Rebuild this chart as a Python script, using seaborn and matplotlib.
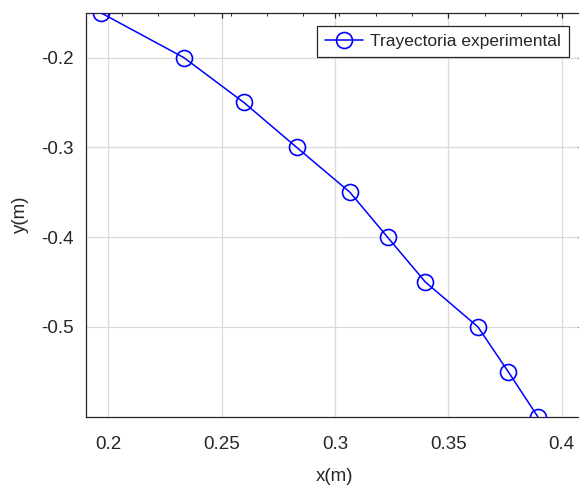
import numpy as np
import pandas as pd
import matplotlib
matplotlib.use("Agg")
import matplotlib.pyplot as plt
import seaborn as sns
from matplotlib.ticker import FixedLocator

x_m = [0.1966, 0.2333, 0.2598, 0.2831, 0.3066, 0.3232, 0.3399, 0.3631, 0.3765, 0.3895]
y_m = [-0.15, -0.20, -0.25, -0.30, -0.35, -0.40, -0.45, -0.50, -0.55, -0.60]
x_ticks = [0.2, 0.25, 0.3, 0.35, 0.4]
x_ticklabels = ["0.2", "0.25", "0.3", "0.35", "0.4"]
y_ticks = [-0.2, -0.3, -0.4, -0.5]
y_ticklabels = ["-0.2", "-0.3", "-0.4", "-0.5"]
series_name = "Trayectoria experimental"

sns.set_theme(style="white")
plt.rcParams['font.family'] = ['Liberation Sans', 'DejaVu Sans']

df = pd.DataFrame({"x": x_m, "y": y_m})

XMIN, XMAX = 0.19, 0.4095
fig = plt.figure(figsize=(5.79, 4.87), dpi=100)
ax = fig.add_axes([85.7 / 579, (487 - 416.7) / 487, (XMAX - XMIN) * 2266 / 579, 404 / 487])

sns.lineplot(data=df, x="x", y="y", sort=False, ax=ax, color="#0000ff",
             linewidth=1.1, marker="o", markersize=11.5, markerfacecolor="none",
             markeredgecolor="#0000ff", markeredgewidth=1.2, label=series_name,
             zorder=3)

ax.set_xlim(XMIN, XMAX)
ax.set_ylim(-0.6, -0.15)
ax.set_xticks(x_ticks)
ax.set_xticklabels(x_ticklabels)
ax.set_yticks(y_ticks)
ax.set_yticklabels(y_ticklabels)
ax.xaxis.set_minor_locator(FixedLocator(np.arange(0.19, 0.41, 0.016)))
ax.yaxis.set_minor_locator(FixedLocator(np.arange(-0.6, -0.15, 0.04)))

ax.grid(True, which="major", color="#dadada", linewidth=0.9)
ax.set_axisbelow(True)
for s in ax.spines.values():
    s.set_visible(True)
    s.set_color("#262626")
    s.set_linewidth(0.9)

ax.tick_params(which="both", direction="in", top=True, right=True,
               color="#262626", labelsize=13.5, labelcolor="#262626")
ax.tick_params(which="major", length=3.4, width=0.9)
ax.tick_params(which="minor", length=2.0, width=0.7)
ax.tick_params(axis="x", which="major", pad=14)
ax.tick_params(axis="y", which="major", pad=8.5)

ax.set_xlabel("x(m)", fontsize=13.5, color="#262626", labelpad=11)
ax.set_ylabel("y(m)", fontsize=13.5, color="#262626", labelpad=9)

leg = ax.legend(loc="upper right", bbox_to_anchor=(569 / 579, 1 - 26 / 487),
                bbox_transform=fig.transFigure, fontsize=12.5, frameon=True,
                fancybox=False, framealpha=1, edgecolor="#262626",
                borderpad=0.45, handlelength=2.2, handletextpad=0.4,
                borderaxespad=0)
leg.get_frame().set_linewidth(0.9)

fig.savefig("out.png", dpi=100)
